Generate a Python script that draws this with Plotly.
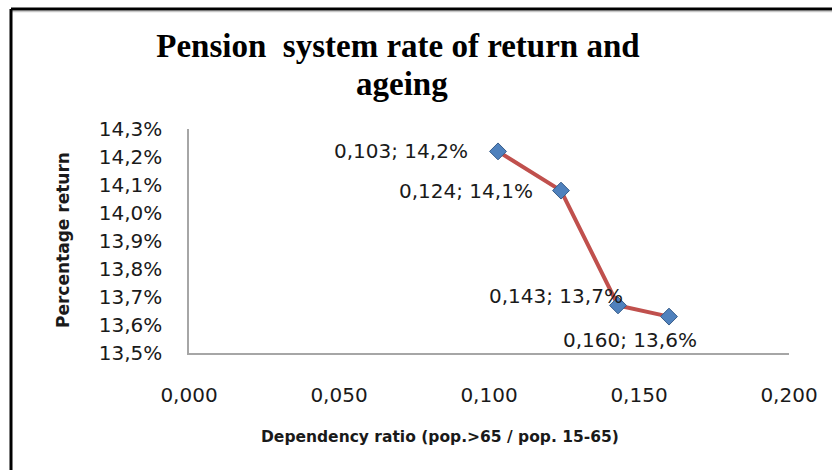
import plotly.graph_objects as go

# Data
dependency_ratio = [0.103, 0.124, 0.143, 0.160]
percentage_return = [0.1422, 0.1408, 0.1367, 0.1363]
point_labels = ["0,103; 14,2%", "0,124; 14,1%", "0,143; 13,7%", "0,160; 13,6%"]
x_ticks = [0.0, 0.05, 0.10, 0.15, 0.20]
y_ticks = [0.135, 0.136, 0.137, 0.138, 0.139, 0.140, 0.141, 0.142, 0.143]

title_line1 = "Pension  system rate of return and"
title_line2 = "ageing"
x_title = "Dependency ratio (pop.>65 / pop. 15-65)"
y_title = "Percentage return"

W, H = 832, 470
L, R, T, B = 189, 43, 129, 117
pw = W - L - R
ph = H - T - B

fig = go.Figure()
fig.add_trace(go.Scatter(
    x=dependency_ratio, y=percentage_return, mode="lines+markers",
    line=dict(color="#c0504d", width=4),
    marker=dict(symbol="diamond", size=13, color="#4f81bd",
                line=dict(color="#385d8a", width=1)),
    hoverinfo="skip", showlegend=False,
))

# data labels
label_style = [
    dict(xanchor="right", xshift=-28, yshift=0),
    dict(xanchor="right", xshift=-26, yshift=0),
    dict(xanchor="right", xshift=7, yshift=9),
    dict(xanchor="center", xshift=-39, yshift=-23),
]
for xv, yv, txt, st in zip(dependency_ratio, percentage_return, point_labels, label_style):
    fig.add_annotation(x=xv, y=yv, xref="x", yref="y", text=txt, showarrow=False,
                       yanchor="middle", font=dict(family="DejaVu Sans", size=20, color="#1a1a1a"),
                       **st)

# second title line (tighter line spacing than plotly's default)
fig.add_annotation(x=(402 - L) / pw, y=(H - B - 84) / ph, xref="paper", yref="paper",
                   text="<b>" + title_line2 + "</b>", showarrow=False,
                   xanchor="center", yanchor="middle",
                   font=dict(family="Liberation Serif", size=33, color="black"))

# axis titles
fig.add_annotation(x=(63 - L) / pw, y=(H - B - 240) / ph, xref="paper", yref="paper",
                   text="<b>" + y_title + "</b>", textangle=-90, showarrow=False,
                   xanchor="center", yanchor="middle",
                   font=dict(family="DejaVu Sans", size=17, color="#1a1a1a"))
fig.add_annotation(x=(440 - L) / pw, y=-(437 - (H - B)) / ph, xref="paper", yref="paper",
                   text="<b>" + x_title + "</b>", showarrow=False,
                   xanchor="center", yanchor="middle",
                   font=dict(family="DejaVu Sans", size=15.5, color="#1a1a1a"))

# outer border (left and top edges visible) with light shadow
fig.add_shape(type="line", xref="paper", yref="paper",
              x0=(11 - L) / pw, x1=(W + 5 - L) / pw, y0=(H - B - 11.5) / ph, y1=(H - B - 11.5) / ph,
              line=dict(color="#c8c8c8", width=1.5))
fig.add_shape(type="line", xref="paper", yref="paper",
              x0=(11 - L) / pw, x1=(11 - L) / pw, y0=-(H - B + 5) / ph, y1=(H - B - 9) / ph,
              line=dict(color="black", width=3))
fig.add_shape(type="line", xref="paper", yref="paper",
              x0=(11 - L) / pw, x1=(W + 5 - L) / pw, y0=(H - B - 9) / ph, y1=(H - B - 9) / ph,
              line=dict(color="black", width=3))

fig.update_layout(
    width=W, height=H,
    margin=dict(l=L, r=R, t=T, b=B),
    paper_bgcolor="white", plot_bgcolor="white",
    separators=",.",
    title=dict(text="<b>" + title_line1 + "</b>", xref="container", yref="container",
               x=398 / W, xanchor="center", y=1 - 34 / H, yanchor="top",
               font=dict(family="Liberation Serif", size=33, color="black")),
    xaxis=dict(range=[0, 0.2], tickvals=x_ticks, tickformat=".3f",
               showgrid=False, zeroline=False, showline=True, linecolor="#a6a6a6", linewidth=1.5,
               ticks="", ticklabelstandoff=23,
               tickfont=dict(family="DejaVu Sans", size=20, color="#1a1a1a")),
    yaxis=dict(range=[0.135, 0.143], tickvals=y_ticks, tickformat=".1%",
               showgrid=False, zeroline=False, showline=True, linecolor="#a6a6a6", linewidth=1.5,
               ticks="", ticklabelstandoff=21,
               tickfont=dict(family="DejaVu Sans", size=20, color="#1a1a1a")),
)

fig.write_html("out.html")
